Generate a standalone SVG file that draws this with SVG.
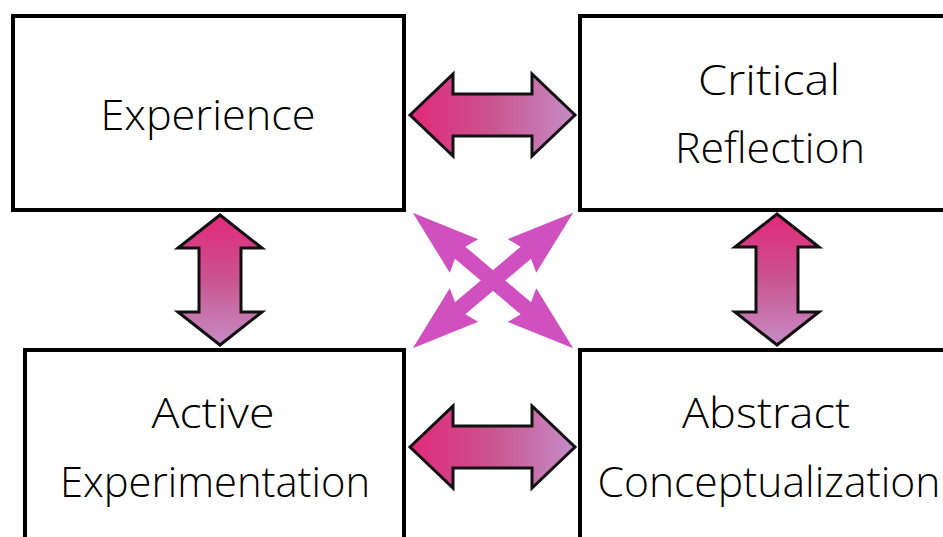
<svg xmlns="http://www.w3.org/2000/svg" width="943" height="537" viewBox="0 0 943 537">
<defs>
<linearGradient id="gh" x1="0" y1="0" x2="1" y2="0">
<stop offset="0" stop-color="#e2287a"/><stop offset="0.5" stop-color="#c9558f"/><stop offset="1" stop-color="#c68cc6"/>
</linearGradient>
<linearGradient id="gv" x1="0" y1="0" x2="0" y2="1">
<stop offset="0" stop-color="#e2287a"/><stop offset="0.5" stop-color="#c9558f"/><stop offset="1" stop-color="#c68cc6"/>
</linearGradient>
<style>
.box{fill:#fff;stroke:#000;stroke-width:4}
.lbl{font-family:"Open Sans","Liberation Sans",sans-serif;font-weight:300;font-size:42px;fill:#000;text-anchor:middle}
.ah{fill:url(#gh);stroke:#111;stroke-width:3;stroke-linejoin:miter}
.av{fill:url(#gv);stroke:#111;stroke-width:3;stroke-linejoin:miter}
.ax{fill:#d050c0}
</style>
</defs>
<rect width="943" height="537" fill="#fff"/>
<g id="experience">
<rect class="box" x="13" y="16" width="391" height="194"/>
<text class="lbl" x="208" y="130" textLength="215" lengthAdjust="spacingAndGlyphs">Experience</text>
</g>
<g id="critical-reflection">
<rect class="box" x="580" y="16" width="400" height="194"/>
<text class="lbl" x="769" y="95" textLength="142" lengthAdjust="spacingAndGlyphs">Critical</text>
<text class="lbl" x="770" y="163" textLength="190" lengthAdjust="spacingAndGlyphs">Reflection</text>
</g>
<g id="active-experimentation">
<rect class="box" x="25" y="350" width="379" height="220"/>
<text class="lbl" x="213" y="428" textLength="123" lengthAdjust="spacingAndGlyphs">Active</text>
<text class="lbl" x="215" y="497" textLength="310" lengthAdjust="spacingAndGlyphs">Experimentation</text>
</g>
<g id="abstract-conceptualization">
<rect class="box" x="580" y="350" width="400" height="220"/>
<text class="lbl" x="766" y="428" textLength="168" lengthAdjust="spacingAndGlyphs">Abstract</text>
<text class="lbl" x="769" y="497" textLength="343" lengthAdjust="spacingAndGlyphs">Conceptualization</text>
</g>
<g id="connectors">
<polygon class="ah" points="410,115 453,74 453,94 532,94 532,74 575,115 532,156 532,136 453,136 453,156"/>
<polygon class="ah" points="410,447 453,406 453,426 532,426 532,406 575,447 532,488 532,468 453,468 453,488"/>
<polygon class="av" points="220,215 262,248 241,248 241,312 262,312 220,345 178,312 199,312 199,248 178,248"/>
<polygon class="av" points="777,214 819,247 798,247 798,312 819,312 777,345 735,312 756,312 756,247 735,247"/>
<g transform="translate(493,280.5) rotate(40.2)">
<polygon class="ax" points="-105,0 -38,-22 -43,-8 43,-8 38,-22 105,0 38,22 43,8 -43,8 -38,22"/>
</g>
<g transform="translate(493,280.5) rotate(-40.2)">
<polygon class="ax" points="-105,0 -38,-22 -43,-8 43,-8 38,-22 105,0 38,22 43,8 -43,8 -38,22"/>
</g>
</g>
</svg>
